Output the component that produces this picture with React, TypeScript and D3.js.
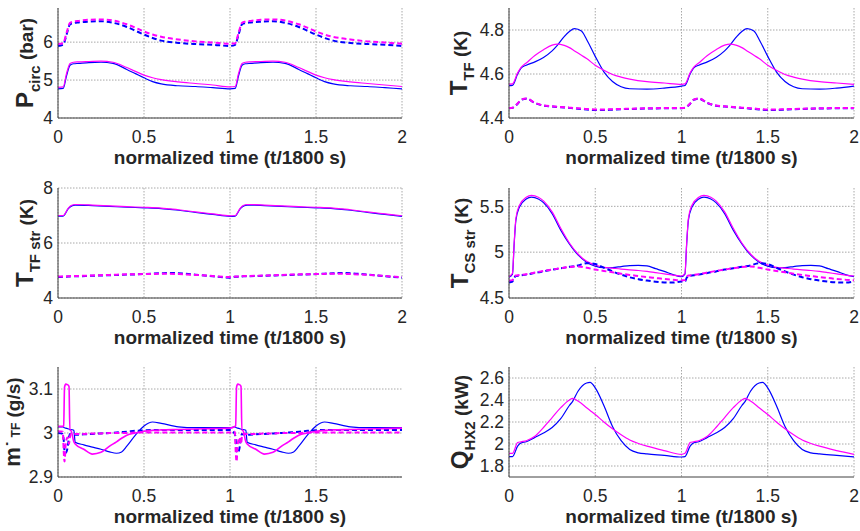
import React from 'react';
import * as d3 from 'd3';

const BLUE = '#0000ff';
const MAG = '#ff00ff';

const xTicksFull = [0, 0.5, 1, 1.5, 2];
const xTicksMdot = [0, 0.5, 1, 1.5];

// ---------- Panel 1: P_circ ----------
const tPcirc = [0,0.03,0.05,0.07,0.09,0.12,0.18,0.25,0.32,0.4,0.45,0.5,0.55,0.6,0.7,0.8,0.9,1.0,
  1.03,1.05,1.07,1.09,1.12,1.18,1.25,1.32,1.4,1.45,1.5,1.55,1.6,1.7,1.8,1.9,2.0];
const pcircBlue = [4.77,4.78,5.12,5.39,5.43,5.44,5.46,5.47,5.44,5.28,5.17,5.06,4.96,4.9,4.85,4.83,4.8,4.77,
  4.78,5.12,5.39,5.43,5.44,5.46,5.47,5.44,5.28,5.17,5.06,4.96,4.9,4.85,4.83,4.8,4.77];
const pcircMag = [4.81,4.82,5.18,5.44,5.47,5.48,5.49,5.5,5.47,5.33,5.23,5.13,5.06,5.01,4.95,4.91,4.87,4.82,
  4.83,5.18,5.44,5.47,5.48,5.49,5.5,5.47,5.33,5.23,5.13,5.06,5.01,4.95,4.91,4.87,4.83];
const pcircBlueDash = [5.9,5.93,6.2,6.47,6.5,6.52,6.54,6.55,6.51,6.4,6.3,6.2,6.11,6.04,5.98,5.95,5.93,5.9,
  5.93,6.2,6.47,6.5,6.52,6.54,6.55,6.51,6.4,6.3,6.2,6.11,6.04,5.98,5.95,5.93,5.9];
const pcircMagDash = [5.95,5.97,6.25,6.51,6.54,6.56,6.59,6.6,6.57,6.47,6.38,6.28,6.2,6.14,6.07,6.02,5.99,5.96,
  5.97,6.25,6.51,6.54,6.56,6.59,6.6,6.57,6.47,6.38,6.28,6.2,6.14,6.07,6.02,5.99,5.96];
const pcircYTicks = [4, 5, 6];

// ---------- Panel 2: T_TF ----------
const tTTF = [0,0.02,0.05,0.07,0.1,0.15,0.2,0.25,0.28,0.32,0.35,0.38,0.42,0.45,0.5,0.55,0.6,0.65,0.7,0.8,0.9,1.0,
  1.02,1.05,1.07,1.1,1.15,1.2,1.25,1.28,1.32,1.35,1.38,1.42,1.45,1.5,1.55,1.6,1.65,1.7,1.8,1.9,2.0];
const ttfBlue = [4.547,4.548,4.6,4.627,4.64,4.655,4.675,4.705,4.73,4.77,4.793,4.806,4.795,4.757,4.68,4.61,4.566,4.542,4.533,4.531,4.536,4.545,
  4.548,4.6,4.627,4.64,4.655,4.675,4.705,4.73,4.77,4.793,4.806,4.795,4.757,4.68,4.61,4.566,4.542,4.533,4.531,4.536,4.545];
const ttfMag = [4.554,4.555,4.605,4.63,4.65,4.684,4.71,4.731,4.736,4.73,4.72,4.705,4.685,4.67,4.64,4.617,4.598,4.586,4.577,4.565,4.559,4.553,
  4.555,4.605,4.63,4.65,4.684,4.71,4.731,4.736,4.73,4.72,4.705,4.685,4.67,4.64,4.617,4.598,4.586,4.577,4.565,4.559,4.553];
const ttfBlueDash = [4.444,4.446,4.465,4.482,4.488,4.468,4.456,4.452,4.45,4.448,4.446,4.444,4.441,4.439,4.436,4.436,4.438,4.44,4.441,4.443,4.444,4.444,
  4.446,4.465,4.482,4.488,4.468,4.456,4.452,4.45,4.448,4.446,4.444,4.441,4.439,4.436,4.436,4.438,4.44,4.441,4.443,4.444,4.444];
const ttfMagDash = [4.445,4.447,4.466,4.483,4.489,4.469,4.457,4.453,4.451,4.449,4.447,4.445,4.443,4.441,4.439,4.439,4.44,4.441,4.442,4.444,4.445,4.445,
  4.447,4.466,4.483,4.489,4.469,4.457,4.453,4.451,4.449,4.447,4.445,4.443,4.441,4.439,4.439,4.44,4.441,4.442,4.444,4.445,4.445];
const ttfYTicks = [4.4, 4.6, 4.8];

// ---------- Panel 3: T_TF str ----------
const tTTFs = [0,0.03,0.06,0.08,0.1,0.2,0.3,0.4,0.5,0.6,0.65,0.7,0.8,0.9,1.0,
  1.03,1.06,1.08,1.1,1.2,1.3,1.4,1.5,1.6,1.65,1.7,1.8,1.9,2.0];
const ttfsBlue = [6.98,6.98,7.25,7.35,7.38,7.36,7.33,7.3,7.28,7.25,7.22,7.19,7.11,7.04,6.97,
  6.98,7.25,7.35,7.38,7.36,7.33,7.3,7.28,7.25,7.22,7.19,7.11,7.04,6.97];
const ttfsMag = [7.0,7.0,7.27,7.37,7.4,7.38,7.35,7.32,7.3,7.27,7.24,7.21,7.13,7.06,6.99,
  7.0,7.27,7.37,7.4,7.38,7.35,7.32,7.3,7.27,7.24,7.21,7.13,7.06,6.99];
const ttfsBlueDash = [4.76,4.77,4.78,4.79,4.79,4.81,4.83,4.85,4.87,4.9,4.91,4.9,4.85,4.79,4.74,
  4.77,4.78,4.79,4.79,4.81,4.83,4.85,4.87,4.9,4.91,4.9,4.85,4.79,4.74];
const ttfsMagDash = [4.78,4.78,4.79,4.8,4.8,4.82,4.84,4.86,4.87,4.88,4.88,4.87,4.84,4.8,4.76,
  4.78,4.79,4.8,4.8,4.82,4.84,4.86,4.87,4.88,4.88,4.87,4.84,4.8,4.76];
const ttfsYTicks = [4, 6, 8];

// ---------- Panel 4: T_CS str ----------
const tTCS = [0,0.02,0.03,0.04,0.06,0.1,0.13,0.17,0.2,0.25,0.3,0.35,0.4,0.45,0.5,0.55,0.6,0.65,0.7,0.75,0.8,0.85,0.9,0.95,1.0,
  1.02,1.03,1.04,1.06,1.1,1.13,1.17,1.2,1.25,1.3,1.35,1.4,1.45,1.5,1.55,1.6,1.65,1.7,1.75,1.8,1.85,1.9,1.95,2.0];
const tcsBlue = [4.726,4.76,5.09,5.35,5.49,5.58,5.6,5.58,5.54,5.42,5.24,5.09,4.97,4.89,4.847,4.83,4.832,4.843,4.854,4.856,4.85,4.82,4.79,4.755,4.733,
  4.76,5.09,5.35,5.49,5.58,5.6,5.58,5.54,5.42,5.24,5.09,4.97,4.89,4.847,4.83,4.832,4.843,4.854,4.856,4.85,4.82,4.79,4.755,4.733];
const tcsMag = [4.735,4.77,5.1,5.37,5.51,5.6,5.62,5.6,5.56,5.44,5.26,5.1,4.98,4.9,4.86,4.835,4.825,4.815,4.807,4.8,4.79,4.777,4.763,4.75,4.74,
  4.77,5.1,5.37,5.51,5.6,5.62,5.6,5.56,5.44,5.26,5.1,4.98,4.9,4.86,4.835,4.825,4.815,4.807,4.8,4.79,4.777,4.763,4.75,4.74];
const tcsBlueDash = [4.67,4.68,4.72,4.74,4.745,4.755,4.765,4.78,4.79,4.81,4.825,4.84,4.855,4.88,4.87,4.83,4.79,4.755,4.726,4.705,4.69,4.678,4.67,4.668,4.68,
  4.68,4.72,4.74,4.745,4.755,4.765,4.78,4.79,4.81,4.825,4.84,4.855,4.88,4.87,4.83,4.79,4.755,4.726,4.705,4.69,4.678,4.67,4.668,4.68];
const tcsMagDash = [4.69,4.695,4.73,4.745,4.75,4.76,4.77,4.785,4.795,4.81,4.825,4.838,4.845,4.83,4.81,4.795,4.78,4.765,4.752,4.74,4.728,4.718,4.708,4.7,4.693,
  4.695,4.73,4.745,4.75,4.76,4.77,4.785,4.795,4.81,4.825,4.838,4.845,4.83,4.81,4.795,4.78,4.765,4.752,4.74,4.728,4.718,4.708,4.7,4.693];
const tcsYTicks = [4.5, 5, 5.5];

// ---------- Panel 5: mdot_TF ----------
const tMdot = [0,0.028,0.033,0.038,0.045,0.055,0.064,0.069,0.075,0.092,0.1,0.15,0.2,0.25,0.3,0.34,0.37,0.4,0.45,0.5,0.55,0.6,0.7,0.8,0.9,1.0,
  1.028,1.033,1.038,1.045,1.055,1.064,1.069,1.075,1.092,1.1,1.15,1.2,1.25,1.3,1.34,1.37,1.4,1.45,1.5,1.55,1.6,1.7,1.8,1.9,2.0];
const mdotBlue = [3.014,3.014,3.013,3.012,3.011,3.01,3.009,3.008,3.008,3.006,2.979,2.973,2.968,2.963,2.957,2.954,2.957,2.97,2.995,3.016,3.025,3.022,3.014,3.012,3.012,3.012,
  3.014,3.013,3.012,3.011,3.01,3.009,3.008,3.008,3.006,2.979,2.973,2.968,2.963,2.957,2.954,2.957,2.97,2.995,3.016,3.025,3.022,3.014,3.012,3.012,3.012];
const mdotMag = [3.015,3.015,3.016,3.104,3.111,3.11,3.106,3.006,3.006,2.98,2.975,2.963,2.952,2.956,2.97,2.98,2.988,2.995,3.0,3.004,3.006,3.007,3.008,3.009,3.01,3.011,
  3.015,3.016,3.104,3.111,3.11,3.106,3.006,3.006,2.98,2.975,2.963,2.952,2.956,2.97,2.98,2.988,2.995,3.0,3.004,3.006,3.007,3.008,3.009,3.01,3.011];
const mdotBlueDash = [3.0,2.998,2.985,2.96,2.955,2.965,2.99,2.998,2.997,2.996,2.996,2.997,2.998,2.999,3.0,3.001,3.002,3.003,3.005,3.006,3.007,3.007,3.007,3.007,3.007,3.007,
  2.998,2.985,2.96,2.955,2.965,2.99,2.998,2.997,2.996,2.996,2.997,2.998,2.999,3.0,3.001,3.002,3.003,3.005,3.006,3.007,3.007,3.007,3.007,3.007,3.007];
const mdotMagDash = [3.004,3.003,2.96,2.935,2.975,2.99,2.975,2.99,2.998,2.998,2.998,2.998,2.999,2.999,3.0,3.0,3.0,3.0,3.001,3.001,3.001,3.001,3.001,3.001,3.001,3.001,
  3.003,2.96,2.935,2.975,2.99,2.975,2.99,2.998,2.998,2.998,2.998,2.999,2.999,3.0,3.0,3.0,3.0,3.001,3.001,3.001,3.001,3.001,3.001,3.001,3.001];
const mdotYTicks = [2.9, 3, 3.1];

// ---------- Panel 6: Q_HX2 ----------
const tQ = [0,0.02,0.05,0.07,0.1,0.15,0.2,0.25,0.3,0.35,0.37,0.4,0.45,0.47,0.5,0.55,0.6,0.65,0.7,0.75,0.8,0.9,1.0,
  1.02,1.05,1.07,1.1,1.15,1.2,1.25,1.3,1.35,1.37,1.4,1.45,1.47,1.5,1.55,1.6,1.65,1.7,1.75,1.8,1.9,2.0];
const qBlue = [1.885,1.885,1.98,2.01,2.02,2.06,2.1,2.15,2.23,2.35,2.39,2.48,2.555,2.56,2.51,2.35,2.16,2.03,1.95,1.92,1.91,1.897,1.882,
  1.885,1.98,2.01,2.02,2.06,2.1,2.15,2.23,2.35,2.39,2.48,2.555,2.56,2.51,2.35,2.16,2.03,1.95,1.92,1.91,1.897,1.882];
const qMag = [1.915,1.915,2.013,2.02,2.03,2.07,2.15,2.24,2.33,2.4,2.414,2.39,2.33,2.305,2.268,2.2,2.138,2.083,2.036,2.005,1.98,1.94,1.906,
  1.915,2.013,2.02,2.03,2.07,2.15,2.24,2.33,2.4,2.414,2.39,2.33,2.305,2.268,2.2,2.138,2.083,2.036,2.005,1.98,1.94,1.906];
const qYTicks = [1.8, 2, 2.2, 2.4, 2.6];

const X_LABEL = 'normalized time (t/1800 s)';

type Part = { text: string; size: number; sub?: boolean };
type Series = { t: number[]; v: number[]; color: string; dashed: boolean; w?: number };
type Panel = {
  x0: number; x1: number; y0: number; y1: number;
  yDomain: [number, number]; yTicks: number[]; xTicks: number[];
  label: Part[]; labelX: number; series: Series[];
};

const LEFT = [58, 402];
const RIGHT = [509, 854];
const ROWS = [[8, 118], [188, 298], [367, 477]];

const panels: Panel[] = [
  {
    x0: LEFT[0], x1: LEFT[1], y0: ROWS[0][0], y1: ROWS[0][1], yDomain: [4, 6.9], yTicks: pcircYTicks, xTicks: xTicksFull,
    label: [{ text: 'P', size: 24 }, { text: 'circ', size: 15, sub: true }, { text: ' (bar)', size: 19 }], labelX: 33,
    series: [
      { t: tPcirc, v: pcircBlue, color: BLUE, dashed: false },
      { t: tPcirc, v: pcircMag, color: MAG, dashed: false },
      { t: tPcirc, v: pcircBlueDash, color: BLUE, dashed: true },
      { t: tPcirc, v: pcircMagDash, color: MAG, dashed: true },
    ],
  },
  {
    x0: RIGHT[0], x1: RIGHT[1], y0: ROWS[0][0], y1: ROWS[0][1], yDomain: [4.4, 4.9], yTicks: ttfYTicks, xTicks: xTicksFull,
    label: [{ text: 'T', size: 24 }, { text: 'TF', size: 15, sub: true }, { text: ' (K)', size: 19 }], labelX: 467,
    series: [
      { t: tTTF, v: ttfBlue, color: BLUE, dashed: false },
      { t: tTTF, v: ttfMag, color: MAG, dashed: false },
      { t: tTTF, v: ttfBlueDash, color: BLUE, dashed: true },
      { t: tTTF, v: ttfMagDash, color: MAG, dashed: true },
    ],
  },
  {
    x0: LEFT[0], x1: LEFT[1], y0: ROWS[1][0], y1: ROWS[1][1], yDomain: [4, 8], yTicks: ttfsYTicks, xTicks: xTicksFull,
    label: [{ text: 'T', size: 24 }, { text: 'TF str', size: 15, sub: true }, { text: ' (K)', size: 19 }], labelX: 33,
    series: [
      { t: tTTFs, v: ttfsBlue, color: BLUE, dashed: false },
      { t: tTTFs, v: ttfsMag, color: MAG, dashed: false },
      { t: tTTFs, v: ttfsBlueDash, color: BLUE, dashed: true },
      { t: tTTFs, v: ttfsMagDash, color: MAG, dashed: true },
    ],
  },
  {
    x0: RIGHT[0], x1: RIGHT[1], y0: ROWS[1][0], y1: ROWS[1][1], yDomain: [4.5, 5.7], yTicks: tcsYTicks, xTicks: xTicksFull,
    label: [{ text: 'T', size: 24 }, { text: 'CS str', size: 15, sub: true }, { text: ' (K)', size: 19 }], labelX: 468,
    series: [
      { t: tTCS, v: tcsBlue, color: BLUE, dashed: false },
      { t: tTCS, v: tcsMag, color: MAG, dashed: false },
      { t: tTCS, v: tcsBlueDash, color: BLUE, dashed: true },
      { t: tTCS, v: tcsMagDash, color: MAG, dashed: true },
    ],
  },
  {
    x0: LEFT[0], x1: LEFT[1], y0: ROWS[2][0], y1: ROWS[2][1], yDomain: [2.9, 3.15], yTicks: mdotYTicks, xTicks: xTicksMdot,
    label: [{ text: 'm', size: 22 }, { text: '˙', size: 19 }, { text: ' TF', size: 12 }, { text: ' (g/s)', size: 19 }], labelX: 20,
    series: [
      { t: tMdot, v: mdotBlue, color: BLUE, dashed: false },
      { t: tMdot, v: mdotBlueDash, color: BLUE, dashed: true },
      { t: tMdot, v: mdotMag, color: MAG, dashed: false, w: 1.6 },
      { t: tMdot, v: mdotMagDash, color: MAG, dashed: true },
    ],
  },
  {
    x0: RIGHT[0], x1: RIGHT[1], y0: ROWS[2][0], y1: ROWS[2][1], yDomain: [1.7, 2.7], yTicks: qYTicks, xTicks: xTicksFull,
    label: [{ text: 'Q', size: 24 }, { text: 'HX2', size: 15, sub: true }, { text: ' (kW)', size: 19 }], labelX: 468,
    series: [
      { t: tQ, v: qBlue, color: BLUE, dashed: false },
      { t: tQ, v: qMag, color: MAG, dashed: false },
    ],
  },
];

const FONT = '"Liberation Sans", Arial, Helvetica, sans-serif';
const TXT = '#262626';

function PanelView({ p }: { p: Panel }) {
  const x = d3.scaleLinear().domain([0, 2]).range([p.x0, p.x1]);
  const y = d3.scaleLinear().domain(p.yDomain).range([p.y1, p.y0]);
  const line = d3.line<[number, number]>()
    .x(d => x(d[0]))
    .y(d => y(d[1]))
    .curve(d3.curveMonotoneX);
  const cy = (p.y0 + p.y1) / 2;
  const cx = (p.x0 + p.x1) / 2;
  const subShift = 7;
  return (
    <g>
      {p.xTicks.map(t => (
        <line key={'gx' + t} x1={x(t)} x2={x(t)} y1={p.y0} y2={p.y1}
          stroke="#a8a8a8" strokeWidth={1} strokeDasharray="1.5,1.5" />
      ))}
      {p.yTicks.map(t => (
        <line key={'gy' + t} x1={p.x0} x2={p.x1} y1={y(t)} y2={y(t)}
          stroke="#a8a8a8" strokeWidth={1} strokeDasharray="1.5,1.5" />
      ))}
      <g>
        {p.series.map((s, i) => (
          <path key={i}
            d={line(s.t.map((t, j) => [t, s.v[j]] as [number, number])) || ''}
            fill="none" stroke={s.color}
            strokeWidth={s.w ?? (s.dashed ? 2 : 1.2)}
            strokeDasharray={s.dashed ? '5,3' : undefined} />
        ))}
      </g>
      <line x1={p.x0} x2={p.x0} y1={p.y0} y2={p.y1} stroke="#404040" strokeWidth={1} />
      <line x1={p.x0} x2={p.x1} y1={p.y1} y2={p.y1} stroke="#404040" strokeWidth={1} />
      {p.xTicks.map(t => (
        <text key={'xt' + t} x={x(t)} y={p.y1 + 25} textAnchor="middle"
          fontSize={17.5} fontFamily={FONT} fill={TXT}>{String(t)}</text>
      ))}
      {p.yTicks.map(t => (
        <text key={'yt' + t} x={p.x0 - 5} y={y(t)} dy="0.36em" textAnchor="end"
          fontSize={17.5} fontFamily={FONT} fill={TXT}>{String(t)}</text>
      ))}
      <text x={cx} y={p.y1 + 46} textAnchor="middle" fontSize={19} fontWeight="bold"
        fontFamily={FONT} fill={TXT}>{X_LABEL}</text>
      <text transform={`translate(${p.labelX},${cy}) rotate(-90)`} textAnchor="middle"
        fontWeight="bold" fontFamily={FONT} fill={TXT}>
        {(() => {
          let cur = 0;
          return p.label.map((part, i) => {
            const target = part.sub ? subShift : 0;
            const dy = target - cur;
            cur = target;
            return (
              <tspan key={i} fontSize={part.size} dy={dy}>{part.text}</tspan>
            );
          });
        })()}
      </text>
    </g>
  );
}

export default function App() {
  return (
    <svg width={860} height={531} viewBox="0 0 860 531"
      style={{ position: 'absolute', left: 0, top: 0, background: '#fff' }}>
      <rect x={0} y={0} width={860} height={531} fill="#fff" />
      {panels.map((p, i) => <PanelView key={i} p={p} />)}
    </svg>
  );
}
